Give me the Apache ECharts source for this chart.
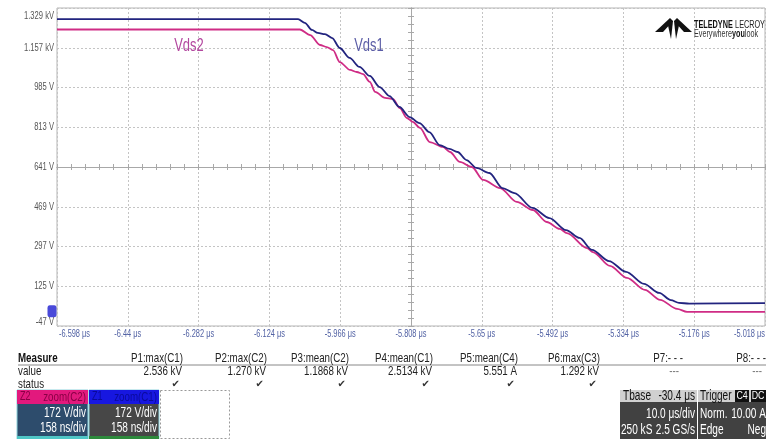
<!DOCTYPE html>
<html><head><meta charset="utf-8">
<script src="https://cdn.jsdelivr.net/npm/echarts@6/dist/echarts.min.js"></script>
<style>html,body{margin:0;padding:0;background:#fff;overflow:hidden}#c{width:766px;height:439px}</style>
</head><body><div id="c"></div>
<script>
// ---- data (time in µs, voltage in V) ----
const vds1Time = [-6.598, -6.060, -6.045, -6.029, -6.016, -6.000, -5.984, -5.967, -5.945, -5.923, -5.900, -5.878, -5.856, -5.834, -5.811, -5.789, -5.767, -5.744, -5.722, -5.704, -5.684, -5.662, -5.633, -5.604, -5.577, -5.537, -5.499, -5.462, -5.432, -5.404, -5.366, -5.328, -5.288, -5.254, -5.228, -5.210, -5.187, -5.018];
const vds1Volt = [1281, 1281, 1265, 1234, 1221, 1216, 1199, 1156, 1113, 1074, 1035, 987, 948, 901, 857, 831, 792, 736, 719, 706, 671, 637, 615, 550, 528, 464, 420, 368, 334, 282, 234, 187, 135, 96, 65, 53, 50, 52];
const vds2Time = [-6.598, -6.056, -6.033, -6.011, -5.996, -5.982, -5.967, -5.944, -5.929, -5.915, -5.900, -5.888, -5.866, -5.848, -5.833, -5.817, -5.804, -5.788, -5.766, -5.737, -5.721, -5.699, -5.672, -5.647, -5.609, -5.572, -5.536, -5.505, -5.476, -5.460, -5.415, -5.402, -5.364, -5.326, -5.286, -5.252, -5.214, -5.192, -5.018];
const vds2Volt = [1236, 1236, 1212, 1169, 1160, 1147, 1095, 1061, 1052, 1043, 1009, 966, 940, 935, 896, 853, 836, 810, 749, 728, 706, 663, 641, 585, 550, 490, 455, 403, 373, 355, 290, 273, 213, 161, 109, 66, 27, 14, 14];
const xTickLabels = ['-6.598 μs','-6.44 μs','-6.282 μs','-6.124 μs','-5.966 μs','-5.808 μs','-5.65 μs','-5.492 μs','-5.334 μs','-5.176 μs','-5.018 μs'];
const yTickLabels = ['-47 V','125 V','297 V','469 V','641 V','813 V','985 V','1.157 kV','1.329 kV'];
const measureNames = ['P1:max(C1)','P2:max(C2)','P3:mean(C2)','P4:mean(C1)','P5:mean(C4)','P6:max(C3)','P7:- - -','P8:- - -'];
const measureValues = ['2.536 kV','1.270 kV','1.1868 kV','2.5134 kV','5.551 A','1.292 kV','---','---'];
const measureStatus = ['✔','✔','✔','✔','✔','✔','',''];

// screen scale: start + size of a division
const T0 = -6.598, TDIV = 0.158, V0 = -47, VDIV = 172;
const toDivs = (ts, vs) => ts.map((t, i) => [(t - T0) / TDIV, (vs[i] - V0) / VDIV]);

const FN = "'Liberation Sans',Arial,sans-serif";
const SX = 0.75;
const G = [];
function txt(x, y, text, o) {
  o = o || {};
  G.push({type:'text', x:x, y:y, z:100, silent:true, scaleX:(o.sx || SX), scaleY:1, style:{
    text:text, fill:o.fill||'#222', font:o.font||('13px '+FN),
    textAlign:o.align||'left', align:o.align||'left',
    textVerticalAlign:'middle', verticalAlign:'middle', rich:o.rich}});
}
function rect(x, y, w, h, fill, stroke, dash) {
  G.push({type:'rect', z:90, silent:true, shape:{x:x,y:y,width:w,height:h},
    style:{fill:fill||'none', stroke:stroke||null, lineWidth:1, lineDash:dash||null}});
}
// measurement table
txt(18, 358, 'Measure', {font:'bold 13px '+FN, fill:'#111'});
G.push({type:'line', z:90, silent:true, shape:{x1:18,y1:365,x2:766,y2:365}, style:{stroke:'#888',lineWidth:1}});
txt(18, 371, 'value'); txt(18, 384, 'status');
const colRight = [183, 267, 349, 433, 518, 600, 683, 766];
measureNames.forEach((n, i) => txt(colRight[i], 358, n, {align:'right'}));
measureValues.forEach((v, i) => txt(v === '---' ? colRight[i] - 4 : colRight[i] - 1, 371, v, {align:'right', fill: v==='---' ? '#777':'#222'}));
measureStatus.forEach((s, i) => { if (s) txt(colRight[i] - 3, 384, s, {align:'right', sx:1, font:"10px 'DejaVu Sans',sans-serif", fill:'#333'}); });
// channel descriptor boxes
rect(17, 390, 71, 49, '#2d4c6c', '#8fd3dc');
rect(17, 390, 71, 14, '#e2197d');
rect(17, 436, 71, 3, '#4fc6c6');
txt(20, 397, 'Z2', {fill:'#8a0045', font:'12px '+FN});
txt(86, 397, 'zoom(C2)', {align:'right', fill:'#8a0045', font:'13px '+FN});
txt(86, 413, '172 V/div', {align:'right', fill:'#fff', font:'14px '+FN, sx:0.72});
txt(86, 428, '158 ns/div', {align:'right', fill:'#fff', font:'14px '+FN, sx:0.72});
rect(89, 390, 70, 49, '#474747', '#8fd3dc');
rect(89, 390, 70, 14, '#1717e0');
rect(89, 436, 70, 3, '#2d8a3c');
txt(92, 397, 'Z1', {fill:'#0a0a9a', font:'12px '+FN});
txt(157, 397, 'zoom(C1)', {align:'right', fill:'#0a0a9a', font:'13px '+FN});
txt(157, 413, '172 V/div', {align:'right', fill:'#fff', font:'14px '+FN, sx:0.72});
txt(157, 428, '158 ns/div', {align:'right', fill:'#fff', font:'14px '+FN, sx:0.72});
rect(160.5, 390.5, 69, 48, '#fff', '#999', [2, 2]);
// timebase box
rect(620, 390, 77, 49, '#414141');
rect(620, 390, 77, 12, '#d0d0d0');
txt(623, 396, 'Tbase', {font:'14px '+FN, fill:'#111', sx:0.72});
txt(695, 396, '-30.4 μs', {align:'right', font:'14px '+FN, fill:'#111', sx:0.72});
txt(695, 414, '10.0 μs/div', {align:'right', font:'14px '+FN, fill:'#fff', sx:0.72});
txt(621, 430, '250 kS', {font:'14px '+FN, fill:'#fff', sx:0.72});
txt(695, 430, '2.5 GS/s', {align:'right', font:'14px '+FN, fill:'#fff', sx:0.72});
// trigger box
rect(698, 390, 68, 49, '#414141');
rect(698, 390, 68, 12, '#d0d0d0');
txt(700, 396, 'Trigger', {font:'14px '+FN, fill:'#111', sx:0.72});
rect(735, 390, 14, 12, '#111'); rect(751, 390, 15, 12, '#111');
txt(742, 396, 'C4', {align:'center', font:'11px '+FN, fill:'#fff', sx:0.8});
txt(758, 396, 'DC', {align:'center', font:'11px '+FN, fill:'#fff', sx:0.8});
txt(700, 414, 'Norm.', {font:'14px '+FN, fill:'#fff', sx:0.72});
txt(766, 414, '10.00 A', {align:'right', font:'14px '+FN, fill:'#fff', sx:0.72});
txt(700, 430, 'Edge', {font:'14px '+FN, fill:'#fff', sx:0.72});
txt(766, 430, 'Neg', {align:'right', font:'14px '+FN, fill:'#fff', sx:0.72});
// logo
[[[655,32],[670,18],[673,21],[663,32]], [[692,32],[677,18],[674,21],[684,32]],
 [[667,21],[673,21],[671,39]], [[674,21],[680,21],[676,39]]].forEach(p =>
  G.push({type:'polygon', z:95, silent:true, shape:{points:p}, style:{fill:'#111'}}));
txt(694, 25, '{a|TELEDYNE} {b|LECROY}', {sx:0.66, rich:{a:{font:'bold 11px '+FN, fill:'#111'}, b:{font:'11px '+FN, fill:'#222'}}});
txt(694, 34, '{b|Everywhere}{a|you}{b|look}', {sx:0.72, rich:{a:{font:'bold 10px '+FN, fill:'#111'}, b:{font:'10px '+FN, fill:'#333'}}});
// trace annotations
txt(189, 46, 'Vds2', {align:'center', font:'18px '+FN, fill:'#b3479f', sx:0.72});
txt(369, 46, 'Vds1', {align:'center', font:'18px '+FN, fill:'#5a5ca6', sx:0.72});

const centerAxisX = (inside) => ({type:'value', min:0, max:10, interval:1, position:'bottom', offset:-159,
  axisLine:{show:true, onZero:false, lineStyle:{color:'#a8a8a8', width:1}},
  axisTick:{show:true, inside:inside, length:3, lineStyle:{color:'#a8a8a8'}},
  minorTick:{show:true, splitNumber:5, length:3, lineStyle:{color:'#a8a8a8'}},
  axisLabel:{show:false}, splitLine:{show:false}});
const centerAxisY = (inside) => ({type:'value', min:0, max:8, interval:1, position:'left', offset:-354,
  axisLine:{show:true, onZero:false, lineStyle:{color:'#a8a8a8', width:1}},
  axisTick:{show:true, inside:inside, length:3, lineStyle:{color:'#a8a8a8'}},
  minorTick:{show:true, splitNumber:5, length:3, lineStyle:{color:'#a8a8a8'}},
  axisLabel:{show:false}, splitLine:{show:false}});

const chart = echarts.init(document.getElementById('c'), null, {renderer:'canvas'});
chart.setOption({
  animation:false,
  backgroundColor:'#fff',
  grid:{left:57, right:1, top:8, bottom:113, show:true, borderColor:'#b5b5b5', borderWidth:1, backgroundColor:'#fff'},
  xAxis:[{type:'value', min:0, max:10, interval:1,
    axisLine:{show:false, onZero:false}, axisTick:{show:false},
    axisLabel:{show:false},
    splitLine:{show:true, lineStyle:{color:'#c4c4c4', type:[2,2], width:1}}},
    centerAxisX(false), centerAxisX(true)],
  yAxis:[{type:'value', min:0, max:8, interval:1,
    axisLine:{show:false, onZero:false}, axisTick:{show:false},
    axisLabel:{show:false},
    splitLine:{show:true, lineStyle:{color:'#c4c4c4', type:[2,2], width:1}}},
    centerAxisY(false), centerAxisY(true)],
  series:[
    {name:'Vds2', type:'line', data:toDivs(vds2Time, vds2Volt), showSymbol:false, smooth:0.3, smoothMonotone:'x',
      lineStyle:{color:'#cf2c85', width:1.8}, z:3},
    {name:'Vds1', type:'line', data:toDivs(vds1Time, vds1Volt), showSymbol:false, smooth:0.3, smoothMonotone:'x',
      lineStyle:{color:'#22247f', width:1.8}, z:4},
    {name:'C1 ground', type:'scatter', data:[[0, (0 - V0) / VDIV]], symbol:'roundRect', symbolSize:[9,12],
      symbolOffset:[-5,-4], clip:false, itemStyle:{color:'#1c1cd0'}, z:5}
  ]
});
// tick labels placed through the axis scales (condensed like the scope font)
xTickLabels.forEach((s, i) => {
  const px = chart.convertToPixel({xAxisIndex:0}, i);
  const y0 = chart.convertToPixel({yAxisIndex:0}, 0);
  txt(i === 0 ? px + 2 : px, y0 + 8, s, {align: i === 0 ? 'left' : (i === xTickLabels.length - 1 ? 'right' : 'center'),
    font:'10px '+FN, fill:'#5262a4', sx:0.74});
});
yTickLabels.forEach((s, i) => {
  const py = chart.convertToPixel({yAxisIndex:0}, i);
  const x0 = chart.convertToPixel({xAxisIndex:0}, 0);
  const dy = i === 0 ? -4 : (i === yTickLabels.length - 1 ? 8 : 0);
  txt(x0 - 3, py + dy, s, {align:'right', font:'10px '+FN, fill:'#555', sx:0.76});
});
chart.setOption({graphic:G});
</script></body></html>
